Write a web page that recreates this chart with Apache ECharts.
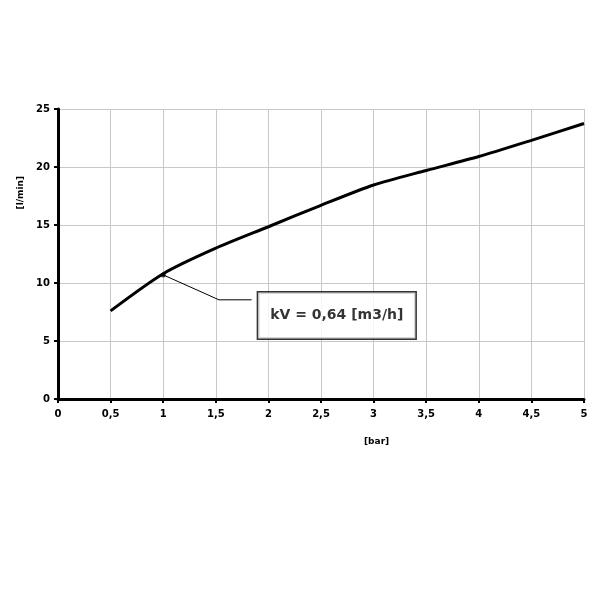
<!DOCTYPE html>
<html><head><meta charset="utf-8">
<script src="https://cdn.jsdelivr.net/npm/echarts@6/dist/echarts.min.js"></script>
<style>html,body{margin:0;padding:0;background:#fff}#c{width:600px;height:600px}</style>
</head><body><div id="c"></div>
<script>
const pressure = [0.5, 1, 1.5, 2, 2.5, 3, 3.5, 4, 4.5, 5];
const flow = [7.6, 10.8, 13.0, 14.85, 16.7, 18.45, 19.7, 20.9, 22.3, 23.75];
const markerPoint = [1, 10.7];
const leaderX = [1, 1.53, 1.84];
const leaderY = [10.7, 8.55, 8.55];
const labelPos = [2.65, 7.2];
const labelText = 'kV = 0,64 [m3/h]';
const xName = '[bar]';
const yName = '[l/min]';

const F = 'DejaVu Sans';
const chart = echarts.init(document.getElementById('c'));
chart.setOption({
  animation: false,
  grid: {left: 58, right: 16, top: 109, bottom: 201},
  xAxis: {
    type: 'value', min: 0, max: 5, interval: 0.5,
    axisLine: {lineStyle: {color: '#000', width: 3}},
    axisTick: {show: true, length: 4, lineStyle: {color: '#000', width: 2}},
    splitLine: {show: true, lineStyle: {color: '#c8c8c8', width: 1}},
    axisLabel: {color: '#000', fontFamily: F, fontWeight: 'bold', fontSize: 10, margin: 10,
      formatter: v => String(v).replace('.', ',')}
  },
  yAxis: {
    type: 'value', min: 0, max: 25, interval: 5,
    axisLine: {show: true, lineStyle: {color: '#000', width: 3}},
    axisTick: {show: true, length: 4, lineStyle: {color: '#000', width: 2}},
    splitLine: {show: true, lineStyle: {color: '#c8c8c8', width: 1}},
    axisLabel: {color: '#000', fontFamily: F, fontWeight: 'bold', fontSize: 10, margin: 8}
  },
  graphic: [
    {type: 'text', left: 16, top: 176, rotation: Math.PI / 2,
      style: {text: yName, fill: '#000', font: 'bold 9px "DejaVu Sans"'}},
    {type: 'text', left: 364, top: 437,
      style: {text: xName, fill: '#000', font: 'bold 9px "DejaVu Sans"'}}
  ],
  series: [
    {type: 'line', data: pressure.map((x, i) => [x, flow[i]]), smooth: 0.25,
      showSymbol: false, lineStyle: {color: '#000', width: 3}, z: 5},
    {type: 'line', data: leaderX.map((x, i) => [x, leaderY[i]]),
      showSymbol: false, lineStyle: {color: '#000', width: 1}, z: 4},
    {type: 'scatter', data: [markerPoint], symbolSize: 5, itemStyle: {color: '#000'}, z: 6},
    {type: 'scatter', data: [labelPos], symbolSize: 0, z: 7, silent: true,
      label: {show: true, position: 'inside', formatter: labelText,
        fontFamily: F, fontWeight: 'bold', fontSize: 14, color: '#000',
        textBorderWidth: 0, textShadowBlur: 0,
        backgroundColor: '#fff', borderColor: '#000', borderWidth: 1.5,
        padding: [16, 12, 16, 12]}}
  ]
});
</script></body></html>
